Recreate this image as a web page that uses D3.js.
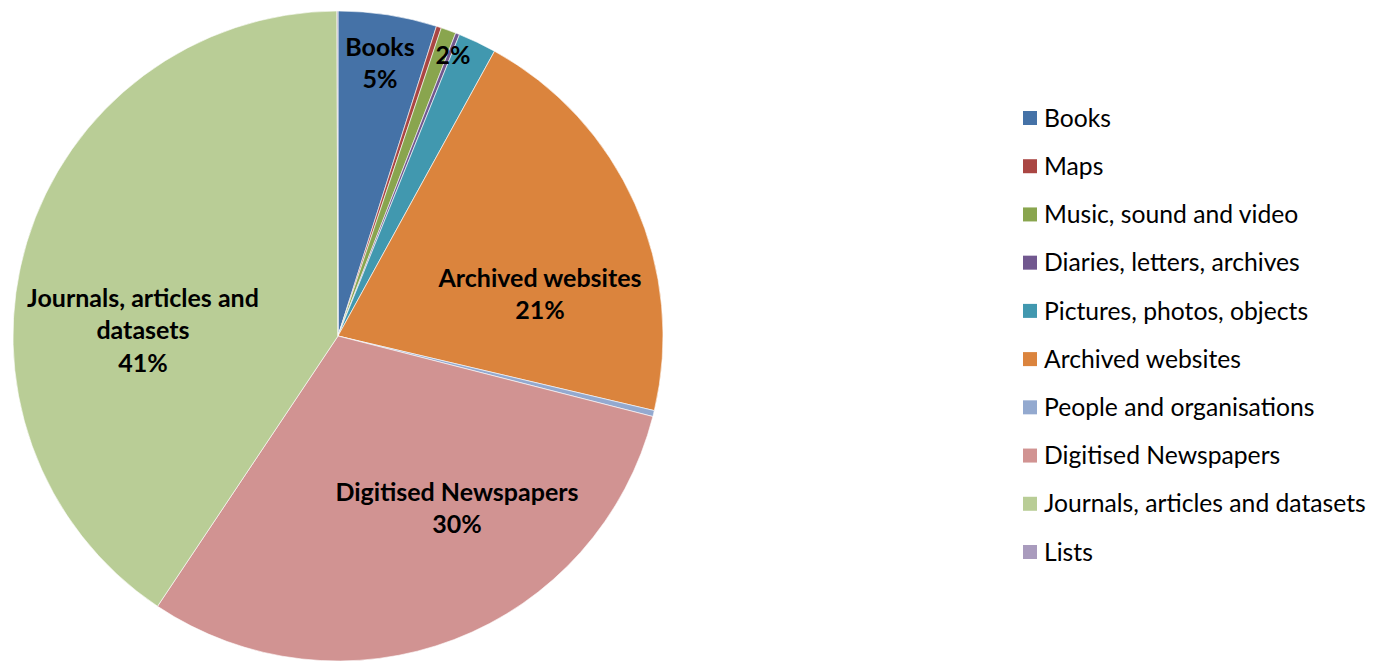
<!DOCTYPE html>
<html><head><meta charset="utf-8">
<script src="https://cdn.jsdelivr.net/npm/d3@7"></script>
<style>body{margin:0;background:#fff}</style>
</head><body>
<svg id="c" width="1380" height="661"></svg>
<script>
const categories = ["Books","Maps","Music, sound and video","Diaries, letters, archives","Pictures, photos, objects","Archived websites","People and organisations","Digitised Newspapers","Journals, articles and datasets","Lists"];
const values = [4.9,0.25,0.75,0.2,1.9,20.7,0.3,30.4,40.6,0.05];
const colors = ["#4572A7","#AA4643","#89A54E","#71588F","#4198AF","#DB843D","#93A9CF","#D19392","#B9CD96","#A99BBD"];
// data labels: [category index, lines]
const labelLines = {0:["Books","5%"],4:["2%"],5:["Archived websites","21%"],7:["Digitised Newspapers","30%"],8:["Journals, articles and","datasets","41%"]};
const labelPos = {0:[380,47],4:[453,55],5:[540,278],7:[457,492],8:[143,298]};

const svg = d3.select("#c");
const cx = 338, cy = 336, r = 325;
const pie = d3.pie().sort(null).value(d=>d)(values);
const arc = d3.arc().innerRadius(0).outerRadius(r);
const g = svg.append("g").attr("transform",`translate(${cx},${cy})`);
g.selectAll("path").data(pie).join("path")
  .attr("d",arc).attr("fill",(d,i)=>colors[i])
  .attr("stroke","#fff").attr("stroke-width",0.6);

const font = "Lato, 'Open Sans', sans-serif";
Object.keys(labelLines).forEach(k=>{
  const lines = labelLines[k], p = labelPos[k];
  const t = svg.append("text").attr("text-anchor","middle")
    .attr("font-family",font).attr("font-weight","bold").attr("font-size",25).attr("fill","#000");
  lines.forEach((l,j)=>t.append("tspan").attr("x",p[0]).attr("y",p[1]+j*32.5).attr("dy","0.35em").text(l));
});

const ly = d3.scalePoint().domain(categories).range([118,552]);
const lg = svg.append("g");
categories.forEach((c,i)=>{
  lg.append("rect").attr("x",1023).attr("y",ly(c)-7).attr("width",14).attr("height",14).attr("fill",colors[i]);
  lg.append("text").attr("x",1044).attr("y",ly(c)).attr("dy","0.35em")
    .attr("font-family",font).attr("font-size",24.7).attr("fill","#000").text(c);
});
</script>
</body></html>
